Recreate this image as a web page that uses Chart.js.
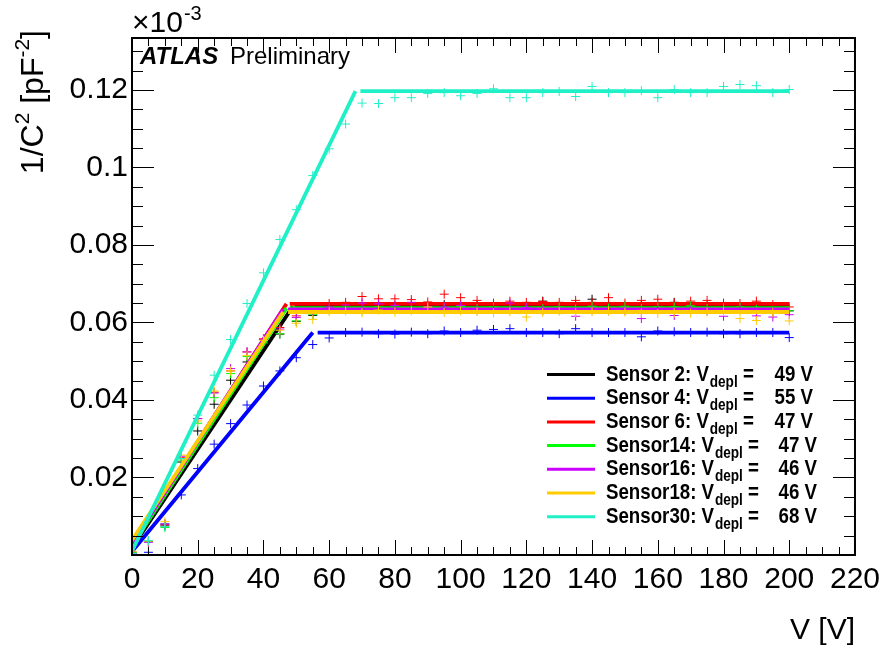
<!DOCTYPE html>
<html><head><meta charset="utf-8">
<script src="https://cdn.jsdelivr.net/npm/chart.js@4.4.1/dist/chart.umd.min.js"></script>
<style>html,body{margin:0;padding:0;background:#fff;overflow:hidden}canvas{display:block}</style>
</head><body>
<canvas id="c" width="887" height="647"></canvas>
<script>
// ---- data ----
const voltages = [0,5,10,15,20,25,30,35,40,45,50,55,60,65,70,75,80,85,90,95,100,105,110,115,120,125,130,135,140,145,150,155,160,165,170,175,180,185,190,195,200];
const sensorNames = ['Sensor 2','Sensor 4','Sensor 6','Sensor14','Sensor16','Sensor18','Sensor30'];
const vdepl = [49,55,47,47,46,46,68];
const sensor2  = [0.0005,0.0034,0.0075,0.0240,0.0320,0.0389,0.0451,0.0498,0.0546,0.0570,0.0603,0.0618,0.0635,0.0640,0.0641,0.0645,0.0640,0.0643,0.0638,0.0646,0.0641,0.0644,0.0640,0.0643,0.0642,0.0655,0.0641,0.0643,0.0660,0.0640,0.0642,0.0644,0.0641,0.0652,0.0640,0.0643,0.0642,0.0640,0.0644,0.0641,0.0630];
const sensor4  = [0.0003,0.0007,0.0080,0.0155,0.0223,0.0286,0.0339,0.0387,0.0436,0.0475,0.0509,0.0543,0.0560,0.0574,0.0575,0.0571,0.0570,0.0575,0.0571,0.0578,0.0574,0.0580,0.0582,0.0584,0.0574,0.0574,0.0571,0.0584,0.0574,0.0574,0.0574,0.0563,0.0578,0.0576,0.0574,0.0575,0.0571,0.0571,0.0574,0.0574,0.0561];
const sensor6  = [0.0008,0.0035,0.0078,0.0252,0.0352,0.0420,0.0475,0.0524,0.0558,0.0587,0.0617,0.0630,0.0649,0.0652,0.0667,0.0661,0.0661,0.0659,0.0653,0.0673,0.0664,0.0657,0.0650,0.0655,0.0652,0.0654,0.0652,0.0657,0.0652,0.0664,0.0650,0.0657,0.0660,0.0651,0.0655,0.0657,0.0650,0.0649,0.0655,0.0646,0.0640];
const sensor14 = [0.0006,0.0036,0.0071,0.0245,0.0340,0.0406,0.0468,0.0512,0.0547,0.0571,0.0604,0.0620,0.0632,0.0636,0.0630,0.0640,0.0636,0.0638,0.0634,0.0637,0.0642,0.0636,0.0640,0.0633,0.0638,0.0636,0.0640,0.0635,0.0642,0.0637,0.0642,0.0636,0.0640,0.0640,0.0643,0.0636,0.0638,0.0640,0.0634,0.0623,0.0630];
const sensor16 = [0.0004,0.0033,0.0080,0.0255,0.0352,0.0418,0.0481,0.0524,0.0556,0.0583,0.0613,0.0625,0.0640,0.0645,0.0650,0.0648,0.0644,0.0652,0.0641,0.0640,0.0644,0.0632,0.0634,0.0650,0.0638,0.0631,0.0633,0.0616,0.0632,0.0630,0.0631,0.0610,0.0633,0.0618,0.0632,0.0630,0.0616,0.0633,0.0617,0.0614,0.0620];
const sensor18 = [0.0010,0.0036,0.0086,0.0258,0.0346,0.0423,0.0475,0.0515,0.0554,0.0580,0.0598,0.0608,0.0628,0.0630,0.0625,0.0632,0.0627,0.0630,0.0640,0.0626,0.0630,0.0628,0.0625,0.0628,0.0614,0.0626,0.0629,0.0625,0.0628,0.0630,0.0627,0.0624,0.0623,0.0625,0.0624,0.0627,0.0628,0.0610,0.0605,0.0625,0.0604];
const sensor30 = [0.0004,0.0037,0.0073,0.0249,0.0361,0.0464,0.0556,0.0649,0.0728,0.0814,0.0891,0.0979,0.1048,0.1112,0.1166,0.1165,0.1180,0.1180,0.1191,0.1193,0.1185,0.1191,0.1203,0.1180,0.1180,0.1193,0.1196,0.1183,0.1209,0.1193,0.1193,0.1198,0.1180,0.1201,0.1193,0.1193,0.1209,0.1214,0.1211,0.1193,0.1201];
const fitIntercept = [0.0018,0.0009,0.0028,0.0024,0.0030,0.0038,0.0010];
const fitPlateau   = [0.0642,0.0574,0.0648,0.0637,0.0634,0.0627,0.1197];
const plateauStart = [49.5,56.5,48,48,47.5,47.5,69.5];
const plateauEnd = 200;
const xTicks = [0,20,40,60,80,100,120,140,160,180,200,220];
const yTicks = [0,0.02,0.04,0.06,0.08,0.1,0.12];
const colors = ['#000000','#0000ff','#ff0000','#00ff00','#cc00ff','#ffcc00','#20f0c8'];
const seriesValues = [sensor2,sensor4,sensor6,sensor14,sensor16,sensor18,sensor30];

const FONT = '"Liberation Sans", Arial, Helvetica, sans-serif';

const datasets = [];
seriesValues.forEach((vals, i) => {
  datasets.push({
    label: sensorNames[i] + ' data',
    data: voltages.map((v, k) => ({x: v, y: vals[k]})),
    showLine: false,
    pointStyle: 'cross',
    pointRadius: 4.5,
    pointBorderWidth: 1,
    pointBorderColor: colors[i],
    pointBackgroundColor: colors[i],
    order: 1000 - 2 * i
  });
  datasets.push({
    label: sensorNames[i] + ' fit',
    data: [
      {x: 0, y: fitIntercept[i]},
      {x: vdepl[i], y: fitPlateau[i]},
      {x: vdepl[i], y: null},
      {x: plateauStart[i], y: fitPlateau[i]},
      {x: plateauEnd, y: fitPlateau[i]}
    ],
    showLine: true,
    spanGaps: false,
    borderColor: colors[i],
    borderWidth: 3.8,
    pointRadius: 0,
    fill: false,
    order: 1000 - 2 * i - 1
  });
});

function drawTicks(ctx, chart) {
  const a = chart.chartArea;
  const xs = chart.scales.x, ys = chart.scales.y;
  ctx.save();
  ctx.strokeStyle = '#000';
  ctx.lineWidth = 1;
  ctx.beginPath();
  for (let v = 0; v <= 220 + 1e-9; v += 5) {
    const px = Math.round(xs.getPixelForValue(v)) + 0.5;
    const len = (v % 20 === 0) ? 15 : 8;
    ctx.moveTo(px, a.bottom); ctx.lineTo(px, a.bottom - len);
    ctx.moveTo(px, a.top); ctx.lineTo(px, a.top + len);
  }
  for (let k = 0; k * 0.005 <= ys.max + 1e-9; k++) {
    const v = k * 0.005;
    const py = Math.round(ys.getPixelForValue(v)) + 0.5;
    const len = (k % 4 === 0) ? 22 : 11;
    ctx.moveTo(a.left, py); ctx.lineTo(a.left + len, py);
    ctx.moveTo(a.right, py); ctx.lineTo(a.right - len, py);
  }
  ctx.stroke();
  ctx.lineWidth = 2;
  ctx.strokeRect(a.left, a.top, a.right - a.left, a.bottom - a.top);
  ctx.restore();
}

function drawTexts(ctx, chart) {
  const a = chart.chartArea;
  ctx.save();
  ctx.fillStyle = '#000';
  ctx.textBaseline = 'alphabetic';
  // y axis title (rotated)
  const pieces = [
    {t: '1/C', f: 32, dy: 0},
    {t: '2', f: 21, dy: -14},
    {t: ' [pF', f: 32, dy: 0},
    {t: '-2', f: 21, dy: -14},
    {t: ']', f: 32, dy: 0}
  ];
  let W = 0;
  pieces.forEach(p => { ctx.font = p.f + 'px ' + FONT; p.w = ctx.measureText(p.t).width; W += p.w; });
  ctx.save();
  ctx.translate(43, 30);
  ctx.rotate(-Math.PI / 2);
  let u = -W;
  ctx.textAlign = 'left';
  pieces.forEach(p => { ctx.font = p.f + 'px ' + FONT; ctx.fillText(p.t, u, p.dy); u += p.w; });
  ctx.restore();
  // x axis title
  ctx.font = '30px ' + FONT;
  ctx.textAlign = 'right';
  ctx.fillText('V [V]', a.right, 639);
  // multiplier
  ctx.textAlign = 'left';
  ctx.font = '30px ' + FONT;
  ctx.fillText('\u00d710', a.left, 32);
  const mw = ctx.measureText('\u00d710').width;
  ctx.font = '20px ' + FONT;
  ctx.fillText('-3', a.left + mw + 1, 20);
  // ATLAS Preliminary
  ctx.font = 'italic bold 24px ' + FONT;
  ctx.fillText('ATLAS', 140, 64);
  ctx.font = '24px ' + FONT;
  ctx.fillText('Preliminary', 230, 64);
  // legend
  for (let i = 0; i < sensorNames.length; i++) {
    const y = 374.5 + 23.7 * i;
    ctx.strokeStyle = colors[i];
    ctx.lineWidth = 3;
    ctx.beginPath(); ctx.moveTo(547, y); ctx.lineTo(595, y); ctx.stroke();
    const sx = 0.85;
    ctx.save();
    ctx.translate(606, y + 6);
    ctx.scale(sx, 1);
    let x = 0;
    ctx.font = 'bold 22px ' + FONT;
    const main = sensorNames[i] + ': V';
    ctx.fillText(main, 0, 0); x += ctx.measureText(main).width + 1;
    ctx.font = 'bold 16px ' + FONT;
    ctx.fillText('depl', x, 6); x += ctx.measureText('depl').width;
    ctx.font = 'bold 22px ' + FONT;
    ctx.fillText(' =', x, 0);
    const endX = (sensorNames[i].indexOf(' ') >= 0 ? 813 : 817) - 606;
    ctx.textAlign = 'right';
    ctx.fillText(vdepl[i] + ' V', endX / sx, 0);
    ctx.textAlign = 'left';
    ctx.restore();
  }
  ctx.restore();
}

const decor = {
  id: 'decor',
  afterDatasetsDraw(chart) { drawTicks(chart.ctx, chart); },
  afterDraw(chart) { drawTexts(chart.ctx, chart); }
};

new Chart(document.getElementById('c'), {
  type: 'scatter',
  data: {datasets},
  options: {
    responsive: false,
    animation: false,
    devicePixelRatio: 1,
    layout: {padding: {top: 38, right: 28, left: 0, bottom: 0}},
    plugins: {legend: {display: false}, tooltip: {enabled: false}},
    scales: {
      x: {
        type: 'linear', min: 0, max: 220,
        afterBuildTicks: s => { s.ticks = xTicks.map(v => ({value: v})); },
        afterFit: s => { s.height = 92; },
        grid: {display: false, drawTicks: false},
        border: {display: false},
        ticks: {font: {family: FONT, size: 30}, color: '#000', padding: 7, maxRotation: 0, autoSkip: false, callback: v => String(v)}
      },
      y: {
        type: 'linear', min: 0, max: 0.1334,
        afterBuildTicks: s => { s.ticks = yTicks.map(v => ({value: v})); },
        afterFit: s => { s.width = 132; },
        grid: {display: false, drawTicks: false},
        border: {display: false},
        ticks: {font: {family: FONT, size: 30}, color: '#000', padding: 4, autoSkip: false,
          callback: v => v === 0 ? '' : String(Number(v.toFixed(2)))}
      }
    }
  },
  plugins: [decor]
});
</script>
</body></html>
